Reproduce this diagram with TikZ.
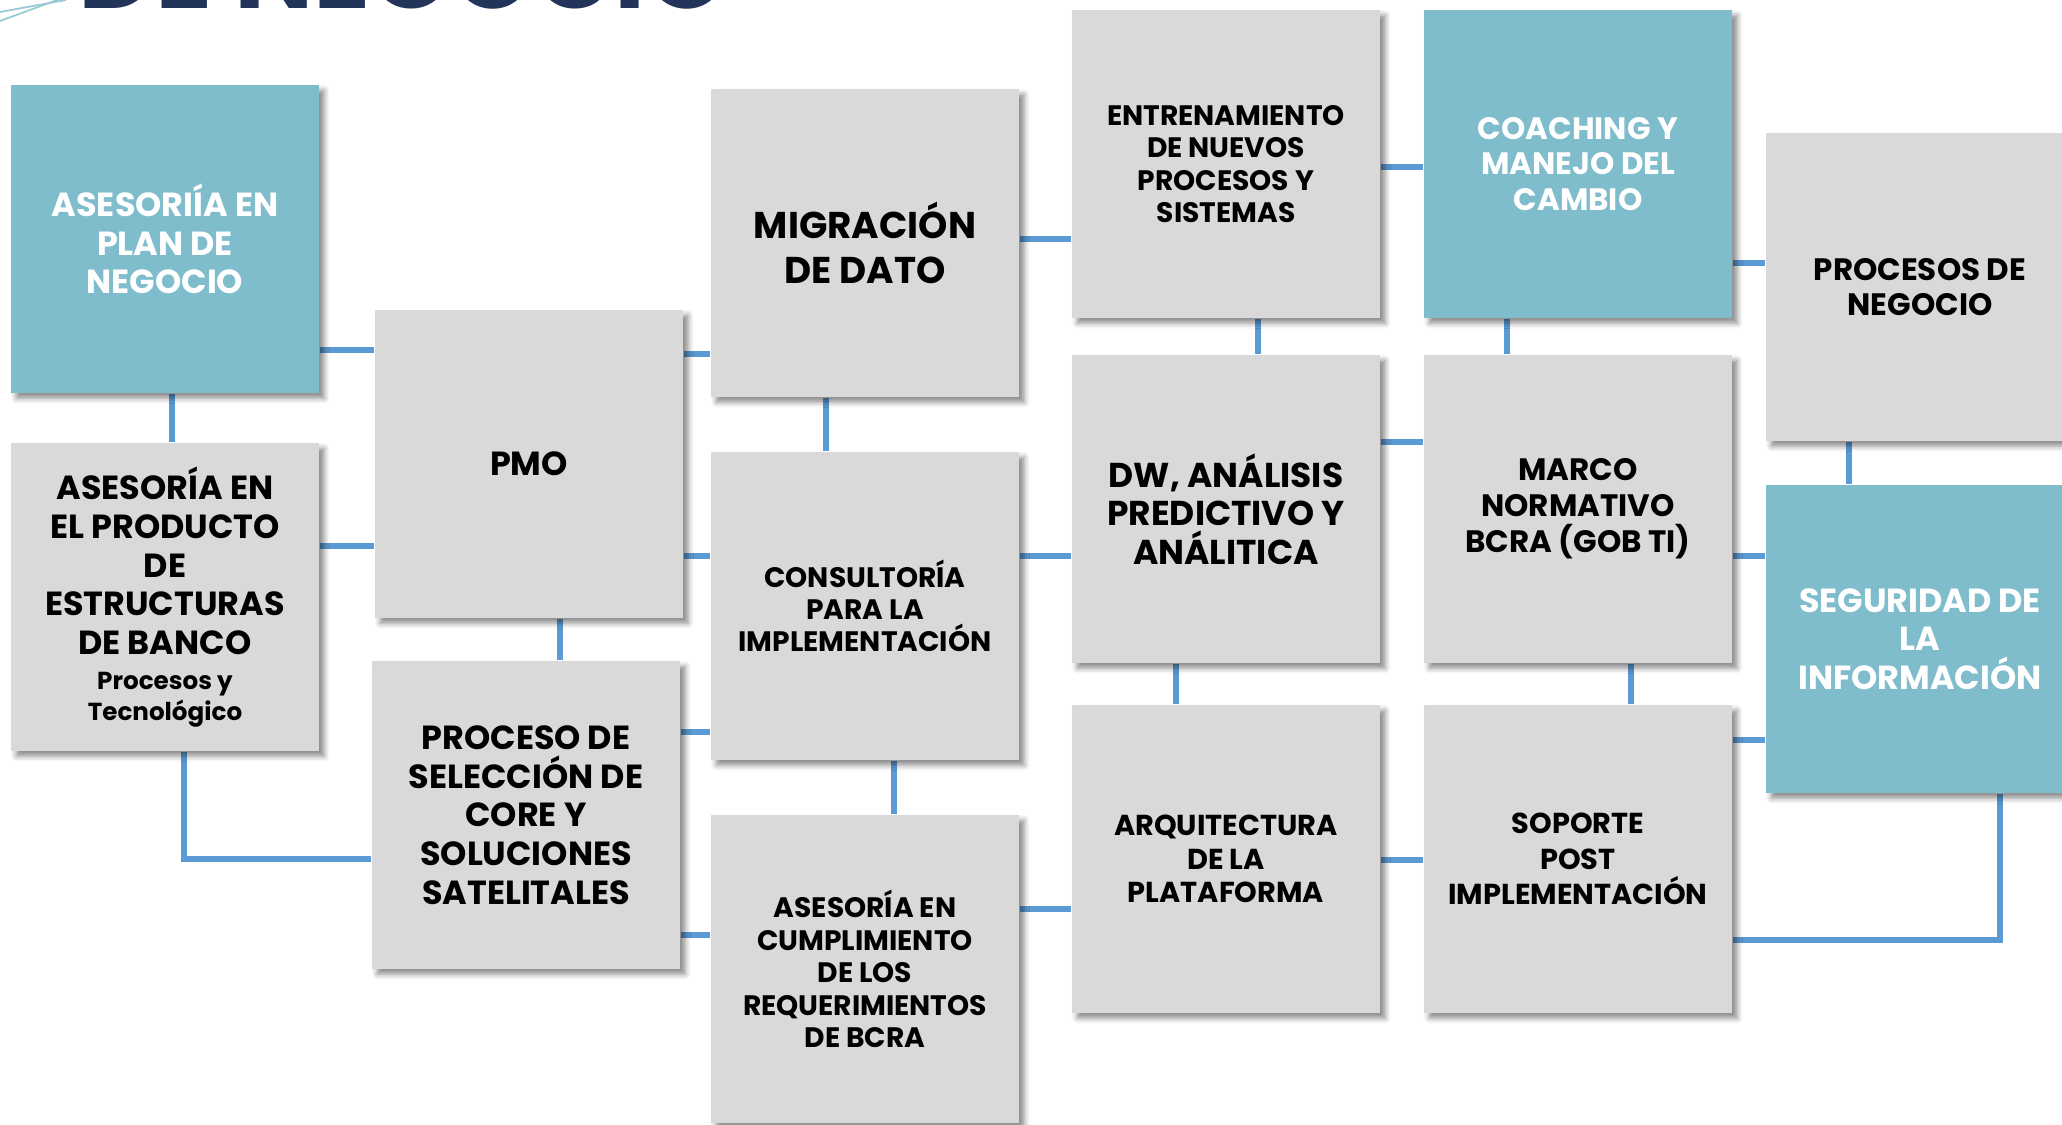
\documentclass[tikz,border=0pt]{standalone}
\usepackage{fontspec}
\setmainfont{Poppins}
\usepackage{tikz}
\usetikzlibrary{shadows.blur, backgrounds}
\definecolor{boxgray}{HTML}{D9D9D9}
\definecolor{boxteal}{HTML}{7FBDCC}
\definecolor{linkblue}{HTML}{5B9BD5}
\definecolor{titlenavy}{HTML}{22345A}
\tikzstyle{gbox} = [rectangle, minimum width=3.08cm, minimum height=3.08cm, inner sep=0pt, align=center, fill=boxgray, text=black, blur shadow={shadow xshift=1.5pt, shadow yshift=-1.5pt, shadow blur radius=1.5pt, shadow opacity=45}]
\tikzstyle{tbox} = [gbox, fill=boxteal, text=white]
\tikzstyle{link} = [linkblue, line width=1.6pt]
\newcommand{\fs}[2]{\fontsize{#1}{#2}\selectfont\bfseries}

\begin{document}
\begin{tikzpicture}[x=0.01cm, y=-0.01cm]
\useasboundingbox (0,0) rectangle (2062,1125);
\clip (0,0) rectangle (2062,1125);

\draw[boxteal!80, line width=0.5pt] (0,12) -- (66,0);
\draw[boxteal!80, line width=0.5pt] (0,21) -- (68,-4);
\node[anchor=base west, text=titlenavy, font=\fs{30}{33}] (title) at (66,9) {DE NEGOCIO};

\node[tbox, font=\fs{9.5}{11}] (plan) at (165,239) {ASESORIÍA EN\\PLAN DE\\NEGOCIO};
\node[gbox, font=\fs{9.5}{11}] (producto) at (165,597) {ASESORÍA EN\\EL PRODUCTO\\DE\\ESTRUCTURAS\\DE BANCO\\[-0.9pt]{\fs{7}{8.6}Procesos y}\\[-2.4pt]{\fs{7}{8.6}Tecnológico}};
\node[gbox, font=\fs{9.5}{11}] (pmo) at (529,464) {PMO};
\node[gbox, font=\fs{9.5}{11}] (seleccion) at (526,815) {PROCESO DE\\SELECCIÓN DE\\CORE Y\\SOLUCIONES\\SATELITALES};
\node[gbox, font=\fs{10.6}{12.7}] (migracion) at (865,243) {MIGRACIÓN\\DE DATO};
\node[gbox, font=\fs{8}{9.2}] (consultoria) at (865,606) {CONSULTORÍA\\PARA LA\\IMPLEMENTACIÓN};
\node[gbox, font=\fs{8}{9.2}] (cumplimiento) at (865,969) {ASESORÍA EN\\CUMPLIMIENTO\\DE LOS\\REQUERIMIENTOS\\DE BCRA};
\node[gbox, font=\fs{8}{9.2}] (entrenamiento) at (1226,164) {ENTRENAMIENTO\\DE NUEVOS\\PROCESOS Y\\SISTEMAS};
\node[gbox, font=\fs{9.8}{10.9}] (analitica) at (1226,509) {DW, ANÁLISIS\\PREDICTIVO Y\\ANÁLITICA};
\node[gbox, font=\fs{8.2}{9.6}] (arquitectura) at (1226,859) {ARQUITECTURA\\DE LA\\PLATAFORMA};
\node[tbox, font=\fs{8.8}{10.2}] (coaching) at (1578,164) {COACHING Y\\MANEJO DEL\\CAMBIO};
\node[gbox, font=\fs{8.8}{10.2}] (marco) at (1578,509) {MARCO\\NORMATIVO\\BCRA (GOB TI)};
\node[gbox, font=\fs{8.2}{10}] (soporte) at (1578,859) {SOPORTE\\POST\\IMPLEMENTACIÓN};
\node[gbox, font=\fs{8.8}{9.8}] (procesos) at (1920,287) {PROCESOS DE\\NEGOCIO};
\node[tbox, font=\fs{9.5}{10.9}] (seguridad) at (1920,639) {SEGURIDAD DE\\LA\\INFORMACIÓN};

\begin{scope}[on background layer]
\draw[link] (plan.east |- 0,350) -- (pmo.west |- 0,350);
\draw[link] (plan.south -| 172,0) -- (producto.north -| 172,0);
\draw[link] (producto.east |- 0,546) -- (pmo.west |- 0,546);
\draw[link] (producto.south -| 184,0) |- (seleccion.west |- 0,859);
\draw[link] (pmo.east |- 0,354) -- (migracion.west |- 0,354);
\draw[link] (pmo.east |- 0,556) -- (consultoria.west |- 0,556);
\draw[link] (pmo.south -| 560,0) -- (seleccion.north -| 560,0);
\draw[link] (seleccion.east |- 0,732) -- (consultoria.west |- 0,732);
\draw[link] (seleccion.east |- 0,935) -- (cumplimiento.west |- 0,935);
\draw[link] (migracion.south -| 826,0) -- (consultoria.north -| 826,0);
\draw[link] (migracion.east |- 0,239) -- (entrenamiento.west |- 0,239);
\draw[link] (consultoria.south -| 894,0) -- (cumplimiento.north -| 894,0);
\draw[link] (consultoria.east |- 0,556) -- (analitica.west |- 0,556);
\draw[link] (cumplimiento.east |- 0,909) -- (arquitectura.west |- 0,909);
\draw[link] (entrenamiento.south -| 1258,0) -- (analitica.north -| 1258,0);
\draw[link] (entrenamiento.east |- 0,167) -- (coaching.west |- 0,167);
\draw[link] (analitica.east |- 0,442) -- (marco.west |- 0,442);
\draw[link] (analitica.south -| 1176,0) -- (arquitectura.north -| 1176,0);
\draw[link] (coaching.south -| 1507,0) -- (marco.north -| 1507,0);
\draw[link] (coaching.east |- 0,263) -- (procesos.west |- 0,263);
\draw[link] (marco.east |- 0,556) -- (seguridad.west |- 0,556);
\draw[link] (marco.south -| 1631,0) -- (soporte.north -| 1631,0);
\draw[link] (arquitectura.east |- 0,860) -- (soporte.west |- 0,860);
\draw[link] (soporte.east |- 0,740) -- (seguridad.west |- 0,740);
\draw[link] (soporte.east |- 0,940) -| (seguridad.south -| 2000,0);
\draw[link] (procesos.south -| 1849,0) -- (seguridad.north -| 1849,0);
\end{scope}
\end{tikzpicture}
\end{document}
